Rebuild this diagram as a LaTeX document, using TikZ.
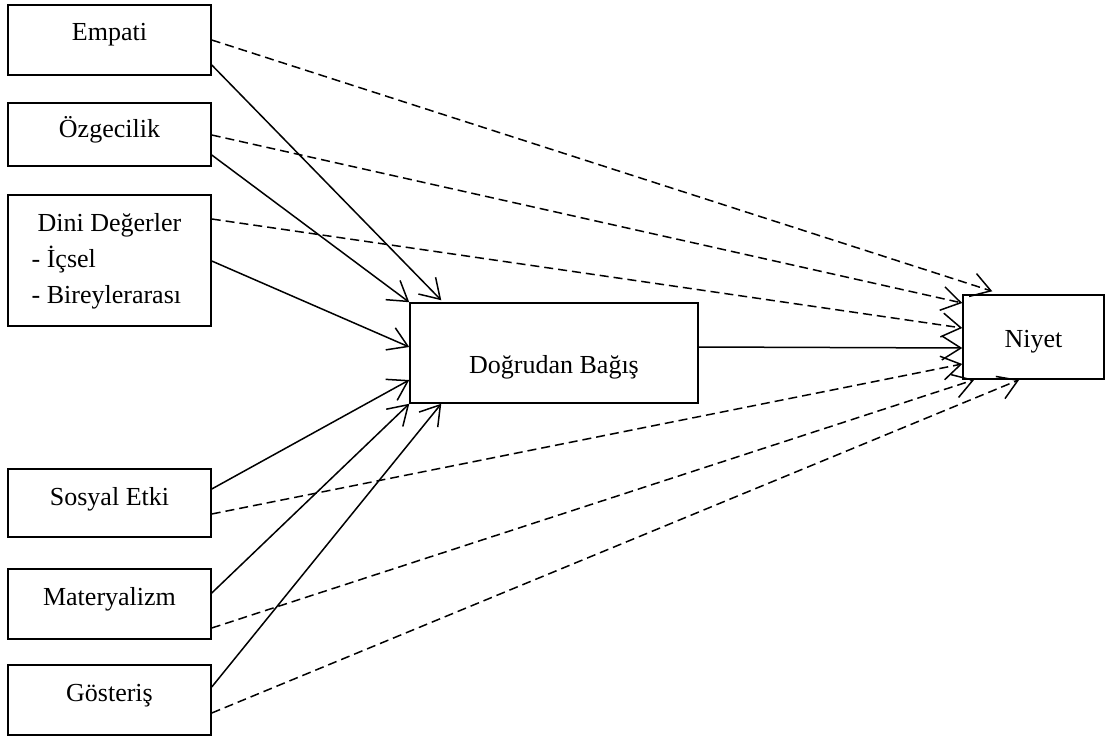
\documentclass[tikz,border=0pt]{standalone}
\usepackage{fontspec}
\setmainfont{Liberation Serif}
\usetikzlibrary{arrows.meta,calc}
\begin{document}
\begin{tikzpicture}[x=1pt,y=-1pt,
  every node/.style={font=\fontsize{26}{36}\selectfont},
  box/.style={draw, line width=1.5pt, inner sep=0pt, minimum width=203pt},
  bl/.style={text height=#1, text depth=0pt},
  link/.style={line width=1.5pt, -{Straight Barb[length=19pt,width=24pt]}},
  direct/.style={link},
  indirect/.style={link, dash pattern=on 9pt off 5pt}
]
\useasboundingbox (0,0) rectangle (1105,738);

% predictor boxes
\node[box, minimum height=70pt, bl=1.4pt] (emp) at (109.5,40) {Empati};
\node[box, minimum height=63pt, bl=7pt] (ozg) at (109.5,134.5) {Özgecilik};
\node[box, minimum height=131pt] (din) at (109.5,260.5)
  {\begin{tabular}{@{}l@{}}\multicolumn{1}{c}{Dini Değerler}\\- İçsel\\- Bireylerarası\end{tabular}};
\node[box, minimum height=68pt, bl=4pt] (sos) at (109.5,503) {Sosyal Etki};
\node[box, minimum height=70pt, bl=2pt] (mat) at (109.5,604) {Materyalizm};
\node[box, minimum height=70pt, bl=2pt] (gos) at (109.5,700) {Gösteriş};

% mediator and outcome
\node[box, minimum width=288pt, minimum height=100pt, bl=40pt] (mid) at (554,353) {Doğrudan Bağış};
\node[box, minimum width=141pt, minimum height=84pt, bl=20pt] (niy) at (1033.5,337) {Niyet};

% paths into the mediator
\draw[direct] ($(emp.east)+(0,25)$) -- ($(mid.north west)+(32,-2)$);
\draw[direct] ($(ozg.east)+(0,20.5)$) -- (mid.north west);
\draw[direct] ($(din.east)+(0,0.5)$) -- ($(mid.west)+(0,-6)$);
\draw[direct] ($(sos.east)+(0,-14)$) -- ($(mid.west)+(0,27)$);
\draw[direct] ($(mat.east)+(0,-11)$) -- (mid.south west);
\draw[direct] ($(gos.east)+(0,-13)$) -- ($(mid.south west)+(32,0)$);

% mediator to outcome
\draw[direct] ($(mid.east)+(0,-6)$) -- ($(niy.west)+(0,11)$);

% paths straight to the outcome
\draw[indirect] (emp.east) -- ($(niy.north west)+(30,-3)$);
\draw[indirect] ($(ozg.east)+(0,0.5)$) -- ($(niy.west)+(0,-34)$);
\draw[indirect] ($(din.east)+(0,-41.5)$) -- ($(niy.west)+(0,-9)$);
\draw[indirect] ($(sos.east)+(0,11)$) -- ($(niy.west)+(0,27)$);
\draw[indirect] ($(mat.east)+(0,24)$) -- ($(niy.south west)+(12,0)$);
\draw[indirect] ($(gos.east)+(0,13)$) -- ($(niy.south west)+(57,0)$);
\end{tikzpicture}
\end{document}
